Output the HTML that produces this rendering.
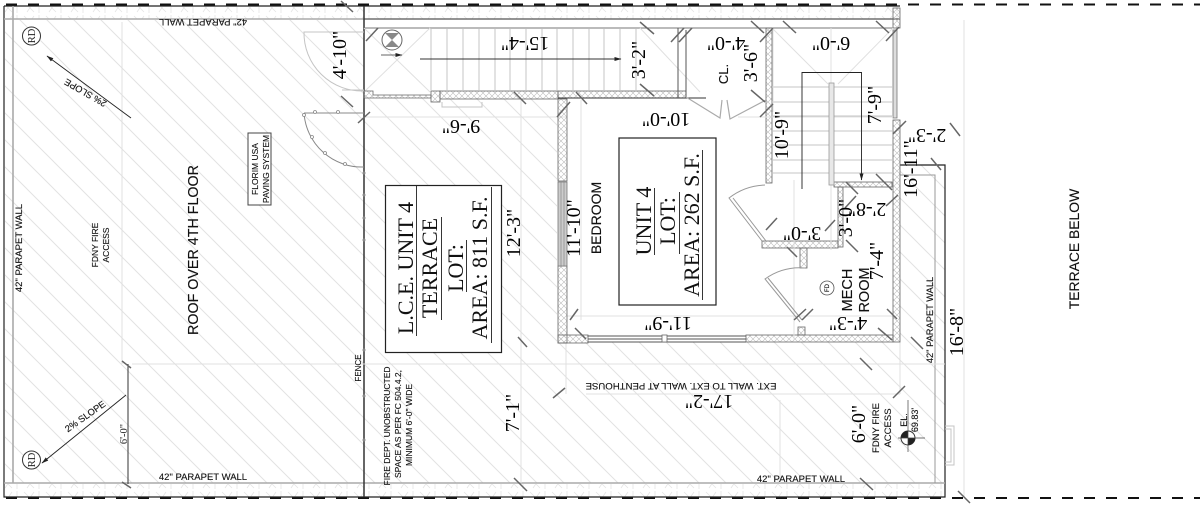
<!DOCTYPE html>
<html><head><meta charset="utf-8"><style>
html,body{margin:0;padding:0;background:#fff;width:1200px;height:506px;overflow:hidden}
svg{display:block}
.s{font-family:"Liberation Sans",sans-serif;fill:#111;stroke:#111;stroke-width:.12}
.d{font-family:"Liberation Serif",serif;fill:#000;font-size:20px;text-anchor:middle}
.l{font-family:"Liberation Serif",serif;fill:#111;text-anchor:middle}
.m{text-anchor:middle}
.t{stroke:#666;stroke-width:1.5}
.f{stroke:#e0e0e0;stroke-width:1;fill:none}
.g{stroke:#c4c4c4;stroke-width:1;fill:none}
</style></head><body>
<svg width="1200" height="506" viewBox="0 0 1200 506" xmlns="http://www.w3.org/2000/svg">
<defs>
<pattern id="h" width="27" height="27" patternUnits="userSpaceOnUse"><path d="M-3 -3L30 30M-30 -3L3 30M24 -3L57 30" stroke="#e2e2e2" stroke-width="1"/></pattern>
<pattern id="x" width="6" height="6" patternUnits="userSpaceOnUse"><path d="M0 0L6 6M6 0L0 6" stroke="#bbb" stroke-width=".6"/></pattern>
<pattern id="b" width="22" height="14" patternUnits="userSpaceOnUse"><path d="M2 2L12 12M12 2L5 12M17 1V13" stroke="#e4e4e4" stroke-width=".8"/></pattern>
<marker id="a" markerUnits="userSpaceOnUse" markerWidth="7" markerHeight="5" refX="6.500" refY="2.500" orient="auto"><path d="M0 .5L7 2.500L0 4.500Z" fill="#222"/></marker>
</defs>
<path d="M5 20H364V98H557V342H900V165H945V483H5Z" fill="url(#h)"/>
<rect x="5" y="7" width="895" height="12" fill="url(#b)"/>
<rect x="5" y="484" width="940" height="13" fill="url(#b)"/>
<path d="M6 4.500H1200M6 498H1200" stroke="#111" stroke-width="2" stroke-dasharray="11 11" fill="none"/>
<path d="M4 6H900M4 6V497H945V165H900" stroke="#222" stroke-width="1.200" fill="none"/>
<path d="M4 19H364M13 6V483M4 483H945" stroke="#aaa" stroke-width="1.600" fill="none"/>
<path d="M900 175H935V483" stroke="#999" stroke-width="1" fill="none"/>
<path d="M364 19H900" stroke="#555" stroke-width="1.200"/>
<path d="M364 28H893" stroke="#777" stroke-width="1"/>
<path d="M364 6V497" stroke="#333" stroke-width="1.500"/>
<path d="M122 22V364M132 364H945M521 98V483M566 342V394M900 342V394M586 394H900M780 400V483M964 20V497M364 117H566M581 100V320M566 316H893" class="f"/>
<path d="M128 364V484" stroke="#333" stroke-width="1"/>
<path d="M126 395L42 463" stroke="#222" stroke-width=".9" fill="none" marker-end="url(#a)"/>
<path d="M131 118L47 56" stroke="#222" stroke-width=".9" marker-end="url(#a)"/>
<circle cx="31.500" cy="36" r="9" fill="#fff" stroke="#333"/><circle cx="31.500" cy="460" r="9" fill="#fff" stroke="#333"/>
<path d="M364 32H304A58 58 0 0 0 364 91" class="g"/>
<path d="M304 113H364M304 113A58 58 0 0 0 364 167" stroke="#888" stroke-width="1" fill="none"/>
<g fill="#fff" stroke="#888" stroke-width=".8"><circle cx="315" cy="112" r="1.500"/><circle cx="338" cy="112" r="1.500"/><circle cx="304" cy="115" r="1.500"/><circle cx="312" cy="137" r="1.500"/><circle cx="325" cy="153" r="1.500"/><circle cx="345" cy="164" r="1.500"/></g>
<g fill="#888"><circle cx="364" cy="173" r="1.500"/><circle cx="364" cy="195" r="1.500"/><circle cx="364" cy="218" r="1.500"/><circle cx="364" cy="240" r="1.500"/><circle cx="364" cy="350" r="1.500"/><circle cx="364" cy="396" r="1.500"/><circle cx="364" cy="440" r="1.500"/></g>
<rect x="248" y="133" width="23" height="72" fill="#fff" stroke="#444"/>
<!-- top stair -->
<path d="M431 29V90M447 29V90M463 29V90M479 29V90M495 29V90M510 29V90M526 29V90M542 29V90M557 29V90M573 29V90M589 29V90M604 29V90M620 29V90M636 29V90" class="g"/>
<path d="M364 28L430 92M430 28L364 92M640 28L700 92" class="f"/>
<path d="M420 59H621" stroke="#333" stroke-width="1" marker-end="url(#a)"/>
<path d="M381 55H402" stroke="#333" stroke-width=".8" marker-end="url(#a)"/>
<circle cx="392" cy="40" r="10" fill="#fff" stroke="#666"/><path d="M385 33H399L385 47H399Z" fill="#888"/>
<!-- walls -->
<g fill="url(#x)" stroke="#666" stroke-width=".8">
<path d="M364 91H373V95H431V98H364Z"/><rect x="431" y="91" width="9" height="11"/><rect x="440" y="91" width="118" height="8"/><rect x="558" y="91" width="128" height="7"/>
<rect x="558" y="99" width="9" height="82"/><rect x="558" y="266" width="9" height="77"/><rect x="558" y="335" width="30" height="8"/>
<rect x="766" y="28" width="6" height="155"/>
<rect x="893" y="120" width="7" height="222"/><rect x="893" y="8" width="7" height="20"/>
<rect x="746" y="335" width="147" height="7"/><rect x="762" y="241" width="76" height="7"/><rect x="800" y="248" width="7" height="20"/>
<rect x="798" y="327" width="7" height="8"/><rect x="834" y="182" width="58" height="5"/><rect x="838" y="187" width="5" height="60"/>
</g>
<path d="M558 182H567V266H558Z" fill="#ccc" stroke="#777" stroke-width=".8"/>
<path d="M561 182V266M564 182V266" stroke="#888" stroke-width=".7"/>
<path d="M588 336H746M588 339H746M588 342H746" stroke="#555" stroke-width=".9"/>
<rect x="662" y="335" width="5" height="7" fill="#fff" stroke="#666" stroke-width=".8"/>
<path d="M893 30H897V118H893Z" fill="#ddd" stroke="#777" stroke-width=".8"/>
<path d="M342 90H364M442 102V107H482V102" class="g"/>
<path d="M558 98H706" stroke="#333" stroke-width="1"/>
<path d="M678 28V98M686 30V98" stroke="#555" stroke-width="1"/>
<path d="M686 97L720 118L722 100M766 100L730 119L727 100" stroke="#aaa" stroke-width="1.200" fill="none"/>
<!-- right stair -->
<path d="M772 87H893M772 102H893M772 116H893M772 131H893M772 145H893M772 160H893M772 173H893" class="g"/>
<path d="M772 28L828 84M893 28L838 84M831 28V250M794 180V340M738 117H893M773 28V112" class="f"/>
<rect x="829" y="83" width="5" height="102" fill="#e8e8e8" stroke="#999" stroke-width=".8"/>
<path d="M802 189V72.500H861.500V180" stroke="#222" stroke-width=".9" fill="none" marker-end="url(#a)"/>
<path d="M765 185A62 62 0 0 0 729 198L762 241M733 198L766 241" stroke="#999" stroke-width="1" fill="none"/>
<path d="M805 268A60 60 0 0 0 765 279L800 322M768 278L802 320" stroke="#999" stroke-width="1" fill="none"/>
<circle cx="827" cy="288" r="7" fill="#fff" stroke="#555" stroke-width=".8"/>
<!-- elev -->
<circle cx="908" cy="438" r="7" fill="#fff" stroke="#333"/><path d="M908 438V431A7 7 0 0 0 901 438ZM908 438V445A7 7 0 0 0 915 438Z" fill="#222"/>
<path d="M908 400V452M898 438H925" stroke="#444" stroke-width=".7"/>
<path d="M945 426H954V465H945M945 429H951V462H945" class="g"/>
<!-- boxes -->
<rect x="385.500" y="185.500" width="116" height="167" fill="#fff" stroke="#222" stroke-width="1.200"/>
<rect x="619" y="138" width="97" height="167" fill="#fff" stroke="#222" stroke-width="1.200"/>
<path d="M416.500 185V336M441.500 217V320M466.500 240V292M491.500 187V343M654.500 188V255M679.500 192V254M702.500 150V300" stroke="#222" stroke-width=".9"/>
<!-- ticks -->
<g class="t">
<path d="M341 1L353 12M341 96L353 107M366 41L378 28M358 123L370 112M557 117L570 102M514 92L526 104M576 92L587 104M640 84L654 96M640 22L654 34M671 42L684 28M679 42L692 28M751 21L764 33M760 42L773 28M783 21L796 33M876 21L889 33M886 41L899 27M751 90L765 102M760 117L773 104M893 134L906 121M931 158L941 170M950 123L960 136M846 182L858 194M876 174L892 190M886 206L898 195M845 208L856 196M825 231L835 220M766 230L777 218M787 247L797 257M846 240L858 252M887 309L897 319M878 328L892 340M794 320L806 309M802 320L813 309M911 337L923 349M860 358L872 370M893 398L905 386M860 478L873 490M958 491L970 503M518 337L527 347M570 320L578 309M575 328L586 339M553 398L565 388M514 478L527 491M122 361L131 368M122 482L131 488"/>
</g>
<!-- sans text -->
<g class="s m">
<text transform="translate(203,19) rotate(180)" font-size="9.500" text-anchor="middle">42" PARAPET WALL</text>
<text transform="translate(22,248) rotate(-90)" font-size="9.500" text-anchor="middle">42" PARAPET WALL</text>
<text transform="translate(98,245) rotate(-90)" font-size="8.500" text-anchor="middle">FDNY FIRE</text>
<text transform="translate(109,245) rotate(-90)" font-size="8.500" text-anchor="middle">ACCESS</text>
<text transform="translate(198,250) rotate(-90)" font-size="14.300" text-anchor="middle">ROOF OVER 4TH FLOOR</text>
<text transform="translate(258,169) rotate(-90)" font-size="8.500" text-anchor="middle">FLORIM USA</text>
<text transform="translate(269,169) rotate(-90)" font-size="8.500" text-anchor="middle">PAVING SYSTEM</text>
<text transform="translate(87,90) rotate(-150)" font-size="9.300" text-anchor="middle">2% SLOPE</text>
<text transform="translate(87,419) rotate(-35)" font-size="9.300" text-anchor="middle">2% SLOPE</text>
<text x="203" y="480" font-size="9.500" text-anchor="middle">42" PARAPET WALL</text>
<text x="801" y="482" font-size="9.500" text-anchor="middle">42" PARAPET WALL</text>
<text transform="translate(361,368) rotate(-90)" font-size="8" text-anchor="middle">FENCE</text>
<text transform="translate(390,426) rotate(-90)" font-size="8.500" text-anchor="middle">FIRE DEPT. UNOBSTRUCTED</text>
<text transform="translate(401,424) rotate(-90)" font-size="8.500" text-anchor="middle">SPACE AS PER FC 504.4.2,</text>
<text transform="translate(412,425) rotate(-90)" font-size="8.500" text-anchor="middle">MINIMUM  6'-0" WIDE</text>
<text transform="translate(601,218) rotate(-90)" font-size="14" text-anchor="middle">BEDROOM</text>
<text transform="translate(728,74) rotate(-90)" font-size="13" text-anchor="middle">CL.</text>
<text transform="translate(852,290) rotate(-90)" font-size="14.500" text-anchor="middle">MECH</text>
<text transform="translate(869,290) rotate(-90)" font-size="14.500" text-anchor="middle">ROOM</text>
<text transform="translate(681,383) rotate(180)" font-size="9.600" text-anchor="middle">EXT. WALL TO EXT. WALL AT PENTHOUSE</text>
<text transform="translate(879,428) rotate(-90)" font-size="9.500" text-anchor="middle">FDNY FIRE</text>
<text transform="translate(891,428) rotate(-90)" font-size="9.500" text-anchor="middle">ACCESS</text>
<text transform="translate(907,420) rotate(-90)" font-size="9" text-anchor="middle">EL.</text>
<text transform="translate(918,420) rotate(-90)" font-size="9" text-anchor="middle">69.83'</text>
<text transform="translate(933,320) rotate(-90)" font-size="9.300" text-anchor="middle">42" PARAPET WALL</text>
<text transform="translate(1079,249) rotate(-90)" font-size="13.900" text-anchor="middle">TERRACE BELOW</text>
<text transform="translate(829,288) rotate(-90)" font-size="6" text-anchor="middle">FD</text>
</g>
<g font-family="Liberation Serif,serif" font-size="10.500" fill="#222" text-anchor="middle">
<text transform="translate(35,36) rotate(-90)">RD</text><text transform="translate(35,460) rotate(-90)">RD</text>
<text transform="translate(127,434) rotate(-90)">6'-0"</text>
</g>
<!-- lot labels -->
<g class="l" font-size="22">
<text transform="translate(413,268) rotate(-90)">L.C.E. UNIT 4</text>
<text transform="translate(437,268) rotate(-90)">TERRACE</text>
<text transform="translate(463,268) rotate(-90)">LOT:</text>
<text transform="translate(487,268) rotate(-90)">AREA: 811 S.F.</text>
<text transform="translate(651,221) rotate(-90)">UNIT 4</text>
<text transform="translate(675,221) rotate(-90)">LOT:</text>
<text transform="translate(699,225) rotate(-90)">AREA: 262 S.F.</text>
</g>
<!-- dimensions -->
<g class="d">
<text transform="translate(346,55) rotate(-90)">4'-10"</text>
<text transform="translate(525,37) rotate(180)">15'-4"</text>
<text transform="translate(645,60) rotate(-90)">3'-2"</text>
<text transform="translate(461,120) rotate(180)">9'-6"</text>
<text transform="translate(666,113) rotate(180)">10'-0"</text>
<text transform="translate(726,37) rotate(180)">4'-0"</text>
<text transform="translate(831,37) rotate(180)">6'-0"</text>
<text transform="translate(757,63) rotate(-90)">3'-6"</text>
<text transform="translate(788,135) rotate(-90)">10'-9"</text>
<text transform="translate(881,105) rotate(-90)">7'-9"</text>
<text transform="translate(927,129) rotate(180)">2'-3"</text>
<text transform="translate(917,169) rotate(-90)">16'-11"</text>
<text transform="translate(867,203) rotate(180)">2'-8"</text>
<text transform="translate(852,218) rotate(-90)">3'-0"</text>
<text transform="translate(802,227) rotate(180)">3'-0"</text>
<text transform="translate(883,261) rotate(-90)">7'-4"</text>
<text transform="translate(848,317) rotate(180)">4'-3"</text>
<text transform="translate(963,332) rotate(-90)">16'-8"</text>
<text transform="translate(865,424) rotate(-90)">6'-0"</text>
<text transform="translate(709,395) rotate(180)">17'-2"</text>
<text transform="translate(519,413) rotate(-90)">7'-1"</text>
<text transform="translate(668,317) rotate(180)">11'-9"</text>
<text transform="translate(520,233) rotate(-90)">12'-3"</text>
<text transform="translate(580,228) rotate(-90)">11'-10"</text>
</g>
</svg>
</body></html>
